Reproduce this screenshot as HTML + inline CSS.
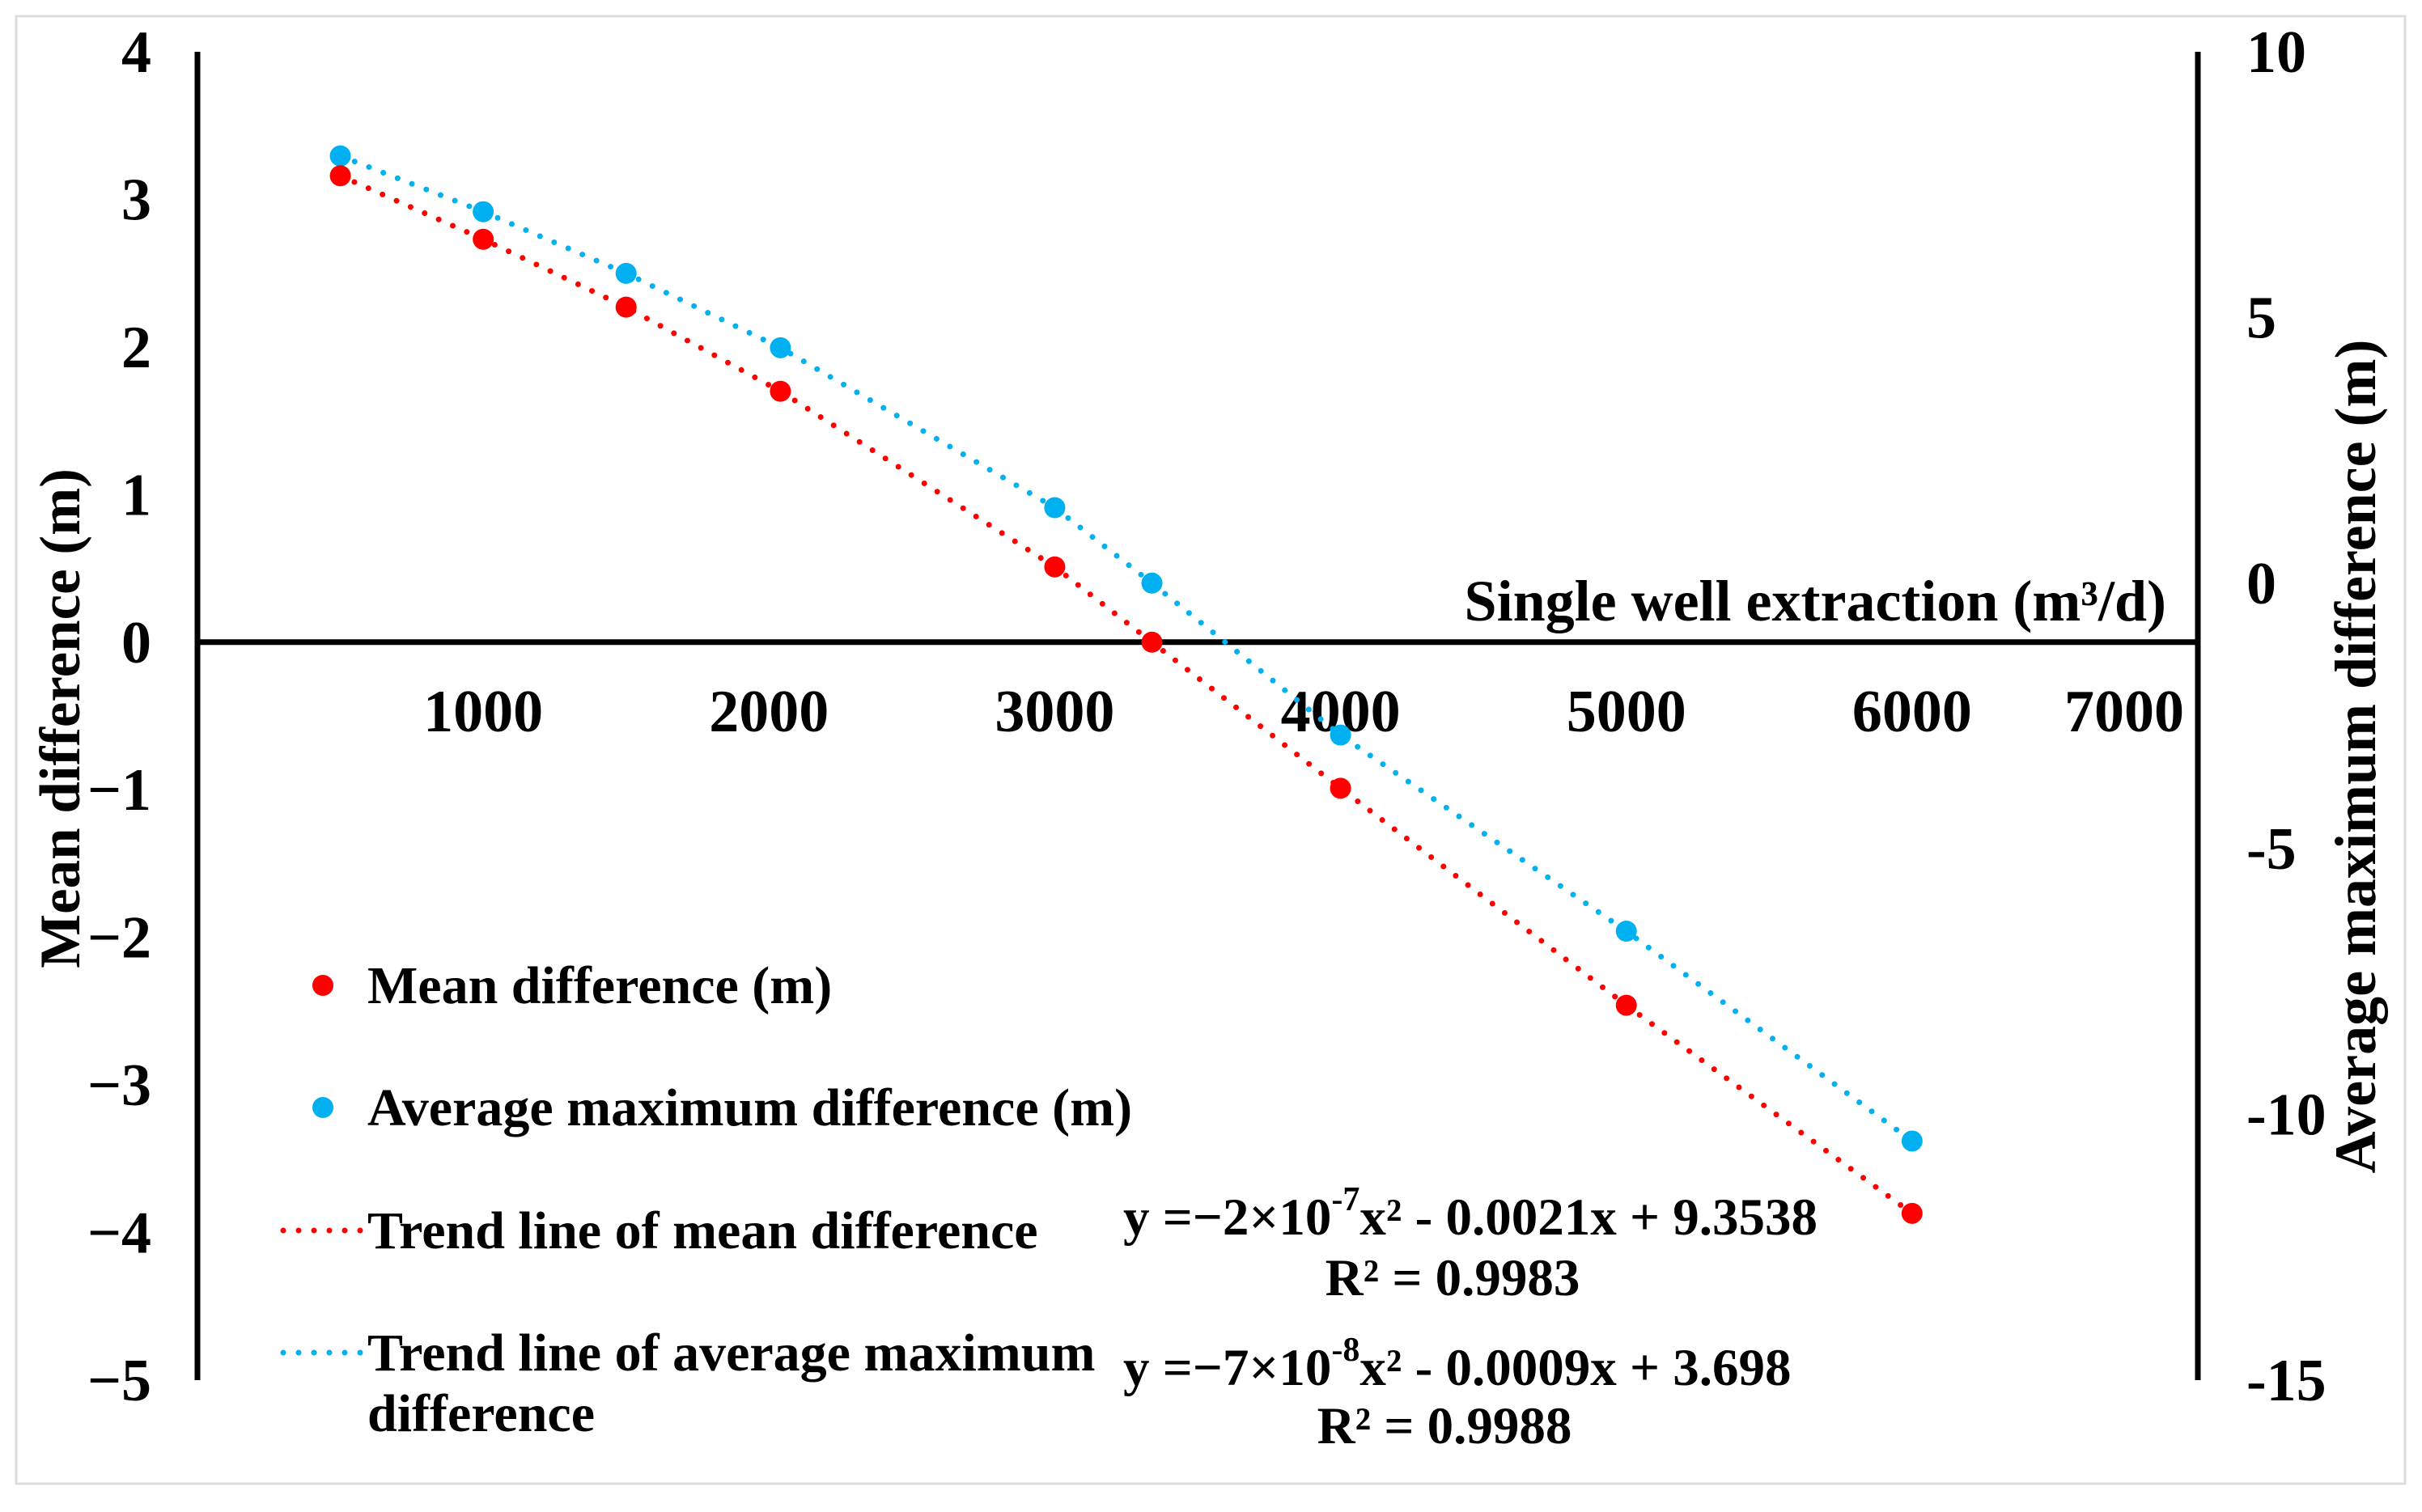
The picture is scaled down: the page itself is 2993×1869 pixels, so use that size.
<!DOCTYPE html>
<html><head><meta charset="utf-8">
<style>
html,body{margin:0;padding:0;background:#fff;}
svg{display:block;font-family:"Liberation Serif",serif;font-weight:bold;}
</style></head>
<body>
<svg id="chart" width="2993" height="1869" viewBox="0 0 2993 1869" xmlns="http://www.w3.org/2000/svg">
<rect x="20" y="20" width="2952" height="1814" fill="#fff" stroke="#ddd" stroke-width="3"/>
<g id="axes"></g>
<g id="series"></g>
<g id="legend">
  <circle cx="399" cy="1218" r="13" fill="#ff0000"/>
  <text x="454" y="1240" font-size="66">Mean difference (m)</text>
  <circle cx="399" cy="1369" r="13" fill="#00b0f0"/>
  <text x="454" y="1391" font-size="66">Average maximum difference (m)</text>
  <line x1="350" y1="1521" x2="449" y2="1521" stroke="#ff0000" stroke-width="7" stroke-linecap="round" stroke-dasharray="0 19"/>
  <text x="454" y="1543" font-size="66">Trend line of mean difference</text>
  <line x1="350" y1="1672" x2="449" y2="1672" stroke="#00b0f0" stroke-width="7" stroke-linecap="round" stroke-dasharray="0 19"/>
  <text x="454" y="1694" font-size="66">Trend line of average maximum</text>
  <text x="454" y="1769" font-size="66">difference</text>
</g>
<g>
  <text x="1388" y="1526" font-size="65">y =−2×10<tspan dy="-30" font-size="42">-7</tspan><tspan dy="30">x² - 0.0021x + 9.3538</tspan></text>
  <text x="1795" y="1601" font-size="65" text-anchor="middle">R² = 0.9983</text>
  <text x="1388" y="1712" font-size="65">y =−7×10<tspan dy="-30" font-size="42">-8</tspan><tspan dy="30">x² - 0.0009x + 3.698</tspan></text>
  <text x="1785" y="1784" font-size="65" text-anchor="middle">R² = 0.9988</text>
</g>
</svg>
<script>
const xCats = [500, 1000, 1500, 2040, 3000, 3340, 4000, 5000, 6000];
const meanVals = [3.16, 2.73, 2.27, 1.70, 0.51, 0.0, -0.99, -2.46, -3.87];
const maxVals = [8.04, 6.99, 5.83, 4.43, 1.42, 0.0, -2.86, -6.55, -10.5];
const xTicks = [1000, 2000, 3000, 4000, 5000, 6000, 7000];
const yLeftTicks = [4, 3, 2, 1, 0, -1, -2, -3, -4, -5];
const yRightTicks = [10, 5, 0, -5, -10, -15];

const NS = "http://www.w3.org/2000/svg";
const X0 = 244, X1 = 2716, YT = 64, YB = 1706;
function xs(v){ return X0 + (v - 0) / 7000 * (X1 - X0); }
function yl(v){ return YT + (4 - v) / 9 * (YB - YT); }
function yr(v){ return YT + (10 - v) / 25 * (YB - YT); }
function mk(tag, attrs, parent){ const e = document.createElementNS(NS, tag); for (const k in attrs) e.setAttribute(k, attrs[k]); parent.appendChild(e); return e; }

const axes = document.getElementById('axes');
let el;
el = mk('line', {x1:X0, y1:YT, x2:X0, y2:YB, stroke:'#000', 'stroke-width':7}, axes);


el = mk('line', {x1:X1, y1:YT, x2:X1, y2:YB, stroke:'#000', 'stroke-width':7}, axes);


el = mk('line', {x1:X0, y1:yl(0), x2:X1, y2:yl(0), stroke:'#000', 'stroke-width':7}, axes);



xTicks.forEach(function(t){
  const xx = t === 7000 ? xs(t) - 91 : xs(t);
  const tx = mk('text', {x:xx, y:904, 'font-size':74, 'text-anchor':'middle'}, axes);
  tx.textContent = t;
  
  
});
yLeftTicks.forEach(function(t){
  const tx = mk('text', {x:187, y:yl(t) + 25, 'font-size':74, 'text-anchor':'end'}, axes);
  tx.textContent = t < 0 ? '−' + Math.abs(t) : String(t);
  
  
});
yRightTicks.forEach(function(t){
  const tx = mk('text', {x:2776, y:yr(t) + 25, 'font-size':74, 'text-anchor':'start'}, axes);
  tx.textContent = String(t);
  
  
});
el = mk('text', {x:2677, y:767, 'font-size':72, 'text-anchor':'end'}, axes);
el.textContent = 'Single well extraction (m³/d)';


el = mk('text', {x:0, y:0, 'font-size':71, 'text-anchor':'middle', transform:'translate(98,888) rotate(-90)'}, axes);
el.textContent = 'Mean difference (m)';


el = mk('text', {x:0, y:0, 'font-size':72, 'text-anchor':'middle', transform:'translate(2935,935) rotate(-90)'}, axes);
el.textContent = 'Average maximum difference (m)';



const series = document.getElementById('series');
function drawSeries(vals, scale, color, name){
  const pts = xCats.map(function(x, i){ return xs(x) + ',' + scale(vals[i]); }).join(' ');
  const pl = mk('polyline', {points:pts, fill:'none', stroke:color, 'stroke-width':7, 'stroke-linecap':'round', 'stroke-dasharray':'0 19'}, series);
  
  
  xCats.forEach(function(x, i){
    const c = mk('circle', {cx:xs(x), cy:scale(vals[i]), r:13, fill:color}, series);
    
    
  });
}
drawSeries(maxVals, yr, '#00b0f0', 'average-maximum-difference');
drawSeries(meanVals, yl, '#ff0000', 'mean-difference');
</script>
</body></html>
